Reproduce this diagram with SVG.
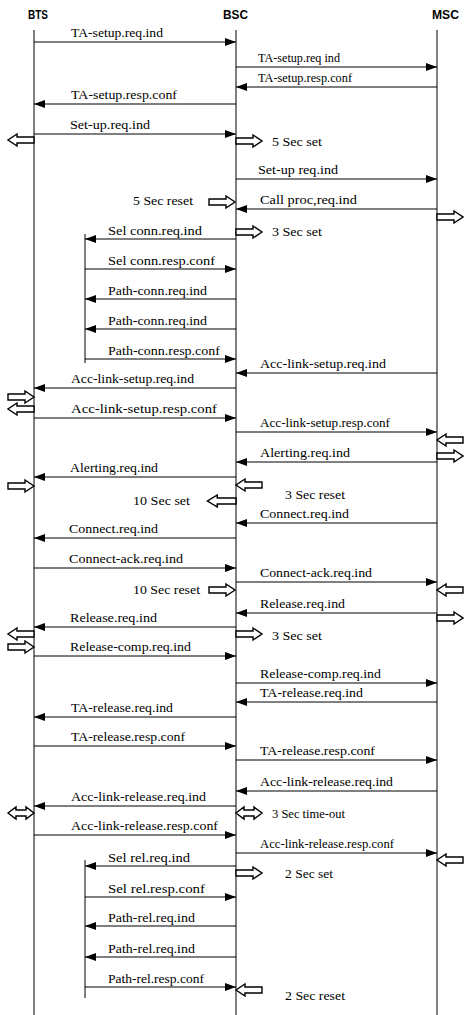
<svg xmlns="http://www.w3.org/2000/svg" xmlns:xlink="http://www.w3.org/1999/xlink" width="464" height="1015" viewBox="0 0 464 1015">
<style>
.hdr{font-family:"Liberation Sans",Arial,sans-serif;font-weight:bold;font-size:13px;fill:#000}
.lbl{font-family:"Liberation Serif","Times New Roman",serif;font-size:13px;fill:#000}
.life{stroke:#000;stroke-width:1;fill:none}
.msg{stroke:#000;stroke-width:1.2;fill:none;marker-end:url(#ah)}
.ha{fill:#fff;stroke:#000;stroke-width:1.4;stroke-linejoin:miter}
</style>
<defs>
<marker id="ah" markerWidth="11" markerHeight="8" refX="11" refY="4" orient="auto" markerUnits="userSpaceOnUse"><path d="M0,0 L11,4 L0,8 Z" fill="#000"/></marker>
<path id="har" d="M0,-3 H17 V-6 L26,0 L17,6 V3 H0 Z"/>
<path id="hdbl" d="M0,0 L8,-6 V-3 H18 V-6 L26,0 L18,6 V3 H8 V6 Z"/>
</defs>
<rect width="464" height="1015" fill="#fff"/>
<g id="node-BTS"><text class="hdr" x="28" y="19" textLength="20" lengthAdjust="spacingAndGlyphs">BTS</text><line class="life" x1="34" y1="30" x2="34" y2="1015"/></g>
<g id="node-BSC"><text class="hdr" x="223" y="19" textLength="25" lengthAdjust="spacingAndGlyphs">BSC</text><line class="life" x1="236" y1="30" x2="236" y2="1015"/></g>
<g id="node-MSC"><text class="hdr" x="432" y="19" textLength="27" lengthAdjust="spacingAndGlyphs">MSC</text><line class="life" x1="437" y1="30" x2="437" y2="1015"/></g>
<g id="node-inner-1"><line class="life" x1="85" y1="234" x2="85" y2="363"/></g>
<g id="node-inner-2"><line class="life" x1="85" y1="860" x2="85" y2="998"/></g>
<g id="connectors">
<line class="msg" x1="34" y1="42" x2="236" y2="42"/>
<line class="msg" x1="236" y1="67" x2="437" y2="67"/>
<line class="msg" x1="437" y1="87" x2="236" y2="87"/>
<line class="msg" x1="236" y1="104" x2="34" y2="104"/>
<line class="msg" x1="34" y1="134" x2="236" y2="134"/>
<line class="msg" x1="236" y1="179" x2="437" y2="179"/>
<line class="msg" x1="437" y1="209" x2="236" y2="209"/>
<line class="msg" x1="236" y1="239" x2="85" y2="239"/>
<line class="msg" x1="85" y1="269" x2="236" y2="269"/>
<line class="msg" x1="236" y1="299" x2="85" y2="299"/>
<line class="msg" x1="236" y1="329" x2="85" y2="329"/>
<line class="msg" x1="85" y1="359" x2="236" y2="359"/>
<line class="msg" x1="437" y1="373" x2="236" y2="373"/>
<line class="msg" x1="236" y1="388" x2="34" y2="388"/>
<line class="msg" x1="34" y1="418" x2="236" y2="418"/>
<line class="msg" x1="236" y1="432" x2="437" y2="432"/>
<line class="msg" x1="437" y1="462" x2="236" y2="462"/>
<line class="msg" x1="236" y1="477" x2="34" y2="477"/>
<line class="msg" x1="437" y1="523" x2="236" y2="523"/>
<line class="msg" x1="236" y1="538" x2="34" y2="538"/>
<line class="msg" x1="34" y1="568" x2="236" y2="568"/>
<line class="msg" x1="236" y1="582" x2="437" y2="582"/>
<line class="msg" x1="437" y1="613" x2="236" y2="613"/>
<line class="msg" x1="236" y1="627" x2="34" y2="627"/>
<line class="msg" x1="34" y1="656" x2="236" y2="656"/>
<line class="msg" x1="236" y1="683" x2="437" y2="683"/>
<line class="msg" x1="437" y1="702" x2="236" y2="702"/>
<line class="msg" x1="236" y1="717" x2="34" y2="717"/>
<line class="msg" x1="34" y1="746" x2="236" y2="746"/>
<line class="msg" x1="236" y1="760" x2="437" y2="760"/>
<line class="msg" x1="437" y1="791" x2="236" y2="791"/>
<line class="msg" x1="236" y1="806" x2="34" y2="806"/>
<line class="msg" x1="34" y1="835" x2="236" y2="835"/>
<line class="msg" x1="236" y1="853" x2="437" y2="853"/>
<line class="msg" x1="236" y1="866" x2="85" y2="866"/>
<line class="msg" x1="85" y1="897" x2="236" y2="897"/>
<line class="msg" x1="236" y1="926" x2="85" y2="926"/>
<line class="msg" x1="236" y1="957" x2="85" y2="957"/>
<line class="msg" x1="85" y1="987" x2="236" y2="987"/>
</g>
<g id="message-labels">
<text class="lbl" x="71" y="37" textLength="92" lengthAdjust="spacingAndGlyphs">TA-setup.req.ind</text>
<text class="lbl" x="258" y="62" textLength="82" lengthAdjust="spacingAndGlyphs">TA-setup.req ind</text>
<text class="lbl" x="258" y="82" textLength="94" lengthAdjust="spacingAndGlyphs">TA-setup.resp.conf</text>
<text class="lbl" x="71" y="99" textLength="106" lengthAdjust="spacingAndGlyphs">TA-setup.resp.conf</text>
<text class="lbl" x="70" y="129" textLength="80" lengthAdjust="spacingAndGlyphs">Set-up.req.ind</text>
<text class="lbl" x="258" y="174" textLength="80" lengthAdjust="spacingAndGlyphs">Set-up req.ind</text>
<text class="lbl" x="260" y="204" textLength="97" lengthAdjust="spacingAndGlyphs">Call  proc,req.ind</text>
<text class="lbl" x="108" y="235" textLength="94" lengthAdjust="spacingAndGlyphs">Sel  conn.req.ind</text>
<text class="lbl" x="108" y="265" textLength="107" lengthAdjust="spacingAndGlyphs">Sel  conn.resp.conf</text>
<text class="lbl" x="108" y="295" textLength="99" lengthAdjust="spacingAndGlyphs">Path-conn.req.ind</text>
<text class="lbl" x="108" y="325" textLength="99" lengthAdjust="spacingAndGlyphs">Path-conn.req.ind</text>
<text class="lbl" x="108" y="355" textLength="112" lengthAdjust="spacingAndGlyphs">Path-conn.resp.conf</text>
<text class="lbl" x="260" y="368" textLength="126" lengthAdjust="spacingAndGlyphs">Acc-link-setup.req.ind</text>
<text class="lbl" x="71" y="383" textLength="123" lengthAdjust="spacingAndGlyphs">Acc-link-setup.req.ind</text>
<text class="lbl" x="71" y="413" textLength="146" lengthAdjust="spacingAndGlyphs">Acc-link-setup.resp.conf</text>
<text class="lbl" x="260" y="427" textLength="130" lengthAdjust="spacingAndGlyphs">Acc-link-setup.resp.conf</text>
<text class="lbl" x="260" y="457" textLength="90" lengthAdjust="spacingAndGlyphs">Alerting.req.ind</text>
<text class="lbl" x="70" y="472" textLength="88" lengthAdjust="spacingAndGlyphs">Alerting.req.ind</text>
<text class="lbl" x="260" y="518" textLength="89" lengthAdjust="spacingAndGlyphs">Connect.req.ind</text>
<text class="lbl" x="69" y="533" textLength="89" lengthAdjust="spacingAndGlyphs">Connect.req.ind</text>
<text class="lbl" x="69" y="563" textLength="114" lengthAdjust="spacingAndGlyphs">Connect-ack.req.ind</text>
<text class="lbl" x="260" y="577" textLength="112" lengthAdjust="spacingAndGlyphs">Connect-ack.req.ind</text>
<text class="lbl" x="260" y="608" textLength="85" lengthAdjust="spacingAndGlyphs">Release.req.ind</text>
<text class="lbl" x="70" y="622" textLength="87" lengthAdjust="spacingAndGlyphs">Release.req.ind</text>
<text class="lbl" x="70" y="651" textLength="121" lengthAdjust="spacingAndGlyphs">Release-comp.req.ind</text>
<text class="lbl" x="260" y="678" textLength="121" lengthAdjust="spacingAndGlyphs">Release-comp.req.ind</text>
<text class="lbl" x="260" y="697" textLength="103" lengthAdjust="spacingAndGlyphs">TA-release.req.ind</text>
<text class="lbl" x="71" y="712" textLength="102" lengthAdjust="spacingAndGlyphs">TA-release.req.ind</text>
<text class="lbl" x="71" y="741" textLength="114" lengthAdjust="spacingAndGlyphs">TA-release.resp.conf</text>
<text class="lbl" x="260" y="755" textLength="115" lengthAdjust="spacingAndGlyphs">TA-release.resp.conf</text>
<text class="lbl" x="260" y="786" textLength="133" lengthAdjust="spacingAndGlyphs">Acc-link-release.req.ind</text>
<text class="lbl" x="71" y="801" textLength="135" lengthAdjust="spacingAndGlyphs">Acc-link-release.req.ind</text>
<text class="lbl" x="71" y="830" textLength="147" lengthAdjust="spacingAndGlyphs">Acc-link-release.resp.conf</text>
<text class="lbl" x="260" y="848" textLength="134" lengthAdjust="spacingAndGlyphs">Acc-link-release.resp.conf</text>
<text class="lbl" x="108" y="862" textLength="82" lengthAdjust="spacingAndGlyphs">Sel  rel.req.ind</text>
<text class="lbl" x="108" y="893" textLength="97" lengthAdjust="spacingAndGlyphs">Sel  rel.resp.conf</text>
<text class="lbl" x="108" y="922" textLength="87" lengthAdjust="spacingAndGlyphs">Path-rel.req.ind</text>
<text class="lbl" x="108" y="953" textLength="87" lengthAdjust="spacingAndGlyphs">Path-rel.req.ind</text>
<text class="lbl" x="108" y="983" textLength="96" lengthAdjust="spacingAndGlyphs">Path-rel.resp.conf</text>
</g>
<g id="timers">
<use class="ha" xlink:href="#har" transform="translate(34,140) scale(-1,1)"/>
<use class="ha" xlink:href="#har" transform="translate(236,141)"/>
<use class="ha" xlink:href="#har" transform="translate(209,202)"/>
<use class="ha" xlink:href="#har" transform="translate(437,217)"/>
<use class="ha" xlink:href="#har" transform="translate(236,232)"/>
<use class="ha" xlink:href="#har" transform="translate(8,397)"/>
<use class="ha" xlink:href="#har" transform="translate(34,409) scale(-1,1)"/>
<use class="ha" xlink:href="#har" transform="translate(463,440) scale(-1,1)"/>
<use class="ha" xlink:href="#har" transform="translate(437,456)"/>
<use class="ha" xlink:href="#har" transform="translate(8,486)"/>
<use class="ha" xlink:href="#har" transform="translate(262,485) scale(-1,1)"/>
<use class="ha" xlink:href="#har" transform="translate(236,501) scale(-1.1,1)"/>
<use class="ha" xlink:href="#har" transform="translate(209,590)"/>
<use class="ha" xlink:href="#har" transform="translate(463,590) scale(-1,1)"/>
<use class="ha" xlink:href="#har" transform="translate(437,618)"/>
<use class="ha" xlink:href="#har" transform="translate(34,634) scale(-1,1)"/>
<use class="ha" xlink:href="#har" transform="translate(8,647)"/>
<use class="ha" xlink:href="#har" transform="translate(236,634)"/>
<use class="ha" xlink:href="#hdbl" transform="translate(8,813)"/>
<use class="ha" xlink:href="#hdbl" transform="translate(236,813)"/>
<use class="ha" xlink:href="#har" transform="translate(463,860) scale(-1,1)"/>
<use class="ha" xlink:href="#har" transform="translate(236,873)"/>
<use class="ha" xlink:href="#har" transform="translate(262,990) scale(-1,1)"/>
<text class="lbl" x="272" y="146" textLength="50" lengthAdjust="spacingAndGlyphs">5 Sec set</text>
<text class="lbl" x="133" y="205" textLength="60" lengthAdjust="spacingAndGlyphs">5 Sec reset</text>
<text class="lbl" x="272" y="236" textLength="50" lengthAdjust="spacingAndGlyphs">3 Sec set</text>
<text class="lbl" x="285" y="499" textLength="60" lengthAdjust="spacingAndGlyphs">3 Sec reset</text>
<text class="lbl" x="133" y="505" textLength="57" lengthAdjust="spacingAndGlyphs">10 Sec set</text>
<text class="lbl" x="133" y="594" textLength="67" lengthAdjust="spacingAndGlyphs">10 Sec reset</text>
<text class="lbl" x="272" y="640" textLength="50" lengthAdjust="spacingAndGlyphs">3 Sec set</text>
<text class="lbl" x="272" y="818" textLength="73" lengthAdjust="spacingAndGlyphs">3 Sec time-out</text>
<text class="lbl" x="285" y="878" textLength="48" lengthAdjust="spacingAndGlyphs">2 Sec set</text>
<text class="lbl" x="285" y="1000" textLength="60" lengthAdjust="spacingAndGlyphs">2 Sec reset</text>
</g>
</svg>
